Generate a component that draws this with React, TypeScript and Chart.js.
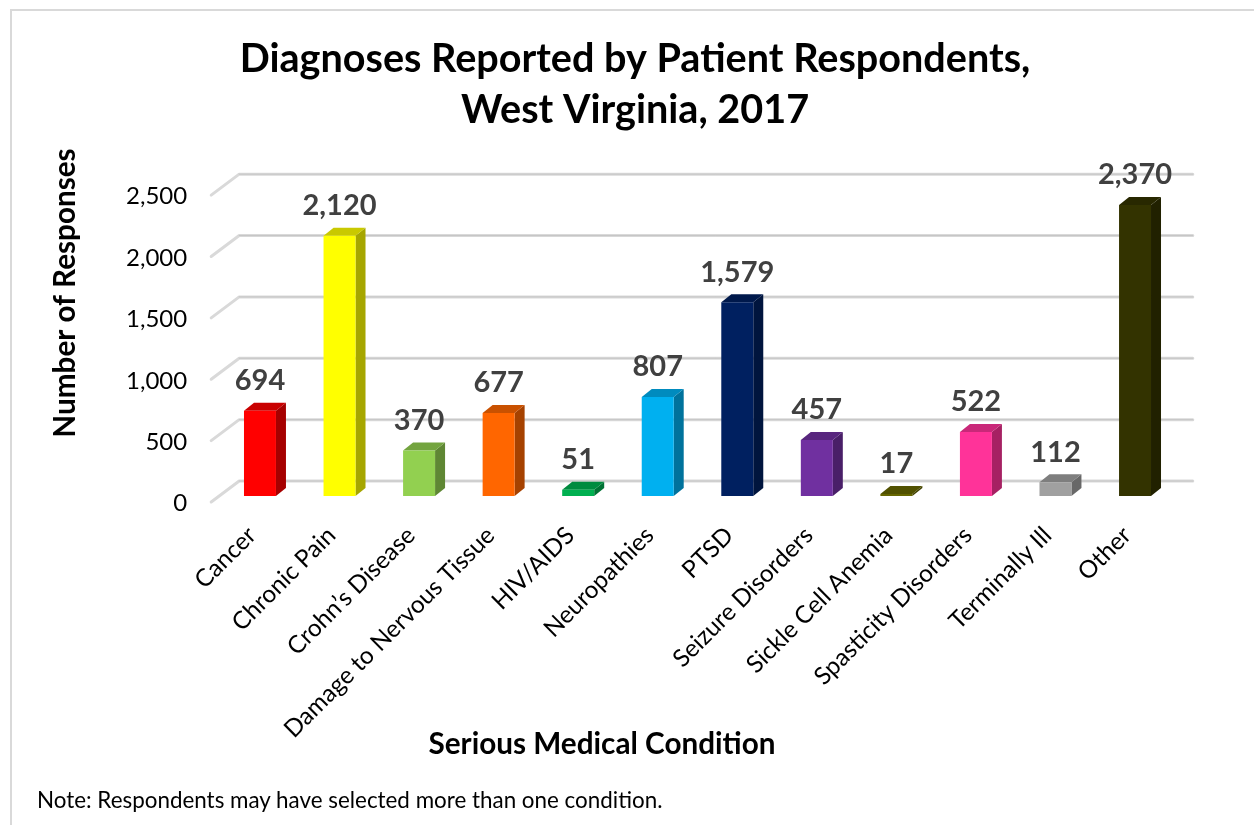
import React, { useEffect, useRef } from "react";
import { Chart, registerables } from "chart.js";

Chart.register(...registerables);

const categories = [
  "Cancer", "Chronic Pain", "Crohn’s Disease", "Damage to Nervous Tissue", "HIV/AIDS", "Neuropathies",
  "PTSD", "Seizure Disorders", "Sickle Cell Anemia", "Spasticity Disorders", "Terminally Ill", "Other",
];
const responses = [694, 2120, 370, 677, 51, 807, 1579, 457, 17, 522, 112, 2370];
const barColors = [
  "#FF0000", "#FFFF00", "#92D050", "#FF6600", "#00B050", "#00B0F0",
  "#002060", "#7030A0", "#666600", "#FF3399", "#A0A0A0", "#333300",
];
const titleLines = ["Diagnoses Reported by Patient Respondents,", "West Virginia, 2017"];
const xAxisTitle = "Serious Medical Condition";
const yAxisTitle = "Number of Responses";
const noteText = "Note: Respondents may have selected more than one condition.";

const FONT = "Lato, Carlito, Calibri, sans-serif";
const DEPTH_X = 10;
const DEPTH_Y = 8;

function shade(hex: string, f: number) {
  const n = parseInt(hex.slice(1), 16);
  const c = [(n >> 16) & 255, (n >> 8) & 255, n & 255].map((v) => Math.round(v * f));
  return `rgb(${c[0]},${c[1]},${c[2]})`;
}

const wallPlugin = {
  id: "wall3d",
  beforeDatasetsDraw(chart: any) {
    const { ctx } = chart;
    const scale = chart.scales.yFront;
    const area = chart.chartArea;
    const frontX = area.left - 9;
    const backX = frontX + 28;
    const rightX = area.right + 18;
    ctx.save();
    ctx.lineJoin = "round";
    ctx.lineCap = "round";
    scale.ticks.forEach((t: any) => {
      const y = scale.getPixelForValue(t.value);
      ctx.beginPath();
      ctx.moveTo(frontX, y);
      ctx.lineTo(backX, y - 21);
      ctx.lineTo(rightX, y - 21);
      ctx.strokeStyle = "#D9D9D9";
      ctx.lineWidth = 3;
      ctx.stroke();
      ctx.beginPath();
      ctx.moveTo(backX, y - 21);
      ctx.lineTo(rightX, y - 21);
      ctx.strokeStyle = "#C6C6C6";
      ctx.lineWidth = 1;
      ctx.stroke();
    });
    // 3D sides and tops of the bars
    chart.getDatasetMeta(0).data.forEach((bar: any, i: number) => {
      const col = barColors[i];
      const l = bar.x - bar.width / 2;
      const r = bar.x + bar.width / 2;
      ctx.beginPath();
      ctx.moveTo(r, bar.y);
      ctx.lineTo(r + DEPTH_X, bar.y - DEPTH_Y);
      ctx.lineTo(r + DEPTH_X, bar.base - DEPTH_Y);
      ctx.lineTo(r, bar.base);
      ctx.closePath();
      ctx.fillStyle = shade(col, 0.65);
      ctx.fill();
      ctx.beginPath();
      ctx.moveTo(l, bar.y);
      ctx.lineTo(l + DEPTH_X, bar.y - DEPTH_Y);
      ctx.lineTo(r + DEPTH_X, bar.y - DEPTH_Y);
      ctx.lineTo(r, bar.y);
      ctx.closePath();
      ctx.fillStyle = shade(col, 0.79);
      ctx.fill();
    });
    ctx.restore();
  },
  afterDatasetsDraw(chart: any) {
    const { ctx } = chart;
    ctx.save();
    // value labels
    ctx.font = `bold 29px ${FONT}`;
    ctx.fillStyle = "#404040";
    ctx.textAlign = "center";
    ctx.textBaseline = "middle";
    chart.getDatasetMeta(0).data.forEach((bar: any, i: number) => {
      ctx.fillText(responses[i].toLocaleString("en-US"), bar.x, bar.y - 30);
    });
    // axis titles
    ctx.fillStyle = "#000000";
    ctx.font = `bold 29.7px ${FONT}`;
    ctx.fillText(xAxisTitle, 602, 744);
    ctx.translate(65, 293);
    ctx.rotate(-Math.PI / 2);
    ctx.fillText(yAxisTitle, 0, 0);
    ctx.restore();
  },
};

export default function App() {
  const ref = useRef<HTMLCanvasElement>(null);
  useEffect(() => {
    const chart = new Chart(ref.current!, {
      type: "bar",
      data: {
        labels: categories,
        datasets: [
          {
            data: responses,
            backgroundColor: barColors,
            borderWidth: 0,
            barPercentage: 0.402,
            categoryPercentage: 1,
            yAxisID: "y",
            xAxisID: "x",
          },
        ],
      },
      options: {
        animation: false,
        responsive: false,
        layout: { padding: { left: 95.2, right: 79.2, top: 0, bottom: 0 } },
        plugins: {
          legend: { display: false },
          tooltip: { enabled: false },
          title: {
            display: true,
            text: titleLines,
            color: "#000000",
            font: { family: FONT, size: 39.6, weight: "bold", lineHeight: 1.29 },
            padding: { top: 34, bottom: 59 },
          },
        },
        scales: {
          x: {
            position: "bottom",
            grid: { display: false, drawTicks: false },
            border: { display: false },
            afterFit: (s: any) => {
              s.height = 323;
            },
            ticks: {
              autoSkip: false,
              minRotation: 45,
              maxRotation: 45,
              padding: 19,
              labelOffset: -8,
              color: "#000000",
              font: { family: FONT, size: 24.3 },
            },
          },
          y: { display: false, min: -49, max: 2451 },
          yFront: {
            axis: "y",
            position: "left",
            min: 0,
            max: 2500,
            grid: { display: false, drawTicks: false },
            border: { display: false },
            afterFit: (s: any) => {
              s.width = 125;
            },
            ticks: {
              stepSize: 500,
              padding: 33,
              labelOffset: 1.5,
              color: "#000000",
              font: { family: FONT, size: 24 },
              callback: (v: any) => Number(v).toLocaleString("en-US"),
            },
          },
        },
      } as any,
      plugins: [wallPlugin],
    });
    return () => chart.destroy();
  }, []);

  return (
    <div style={{ position: "fixed", left: 0, top: 0, width: 1254, height: 825, background: "#fff", overflow: "hidden" }}>
      <div style={{ position: "absolute", left: 10, top: 9, width: 1300, height: 900, border: "2px solid #D9D9D9" }} />
      <canvas ref={ref} width={1254} height={825} style={{ position: "absolute", left: 0, top: 0, width: 1254, height: 825 }} />
      <div style={{ position: "absolute", left: 37, top: 787, fontFamily: FONT, fontSize: 22.4, lineHeight: "26px", color: "#000", whiteSpace: "nowrap" }}>
        {noteText}
      </div>
    </div>
  );
}
